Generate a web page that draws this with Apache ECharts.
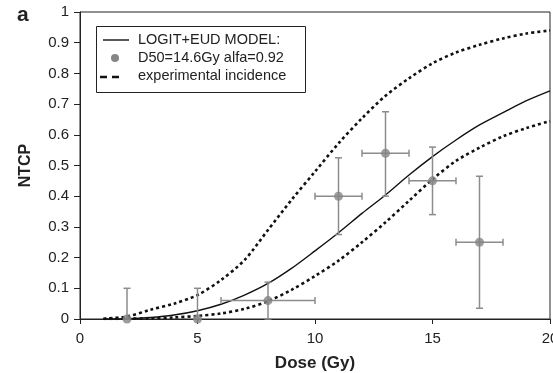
<!DOCTYPE html>
<html>
<head>
<meta charset="utf-8">
<script src="https://cdn.jsdelivr.net/npm/echarts@6/dist/echarts.min.js"></script>
<style>
html,body{margin:0;padding:0;background:#fff;}
#chart{width:553px;height:373px;}
</style>
</head>
<body>
<div id="chart"></div>
<script>
// ---- data ----
const doses = [1,2,3,4,5,6,7,8,9,10,11,12,13,14,15,16,17,18,19,20];
const modelNTCP = [0.0002,0.0012,0.005,0.013,0.027,0.048,0.078,0.116,0.165,0.222,0.281,0.344,0.404,0.469,0.529,0.583,0.632,0.672,0.711,0.743];
const upperCI = [0.001,0.008,0.03,0.05,0.078,0.127,0.192,0.29,0.388,0.48,0.572,0.654,0.727,0.784,0.833,0.868,0.893,0.914,0.93,0.94];
const lowerCI = [0,0.001,0.002,0.005,0.01,0.018,0.033,0.058,0.095,0.14,0.19,0.25,0.315,0.385,0.455,0.515,0.558,0.595,0.622,0.645];

const expDose   = [2,5,8,11,13,15,17];
const expNTCP   = [0,0,0.06,0.40,0.54,0.45,0.25];
const expDoseLo = [2,5,6,10,12,14,16];
const expDoseHi = [2,5,10,12,14,16,18];
const expNTCPLo = [0,0,0,0.275,0.40,0.34,0.035];
const expNTCPHi = [0.10,0.10,0.12,0.525,0.675,0.56,0.465];

const xTicks = [0,5,10,15,20];
const yTicks = [0,0.1,0.2,0.3,0.4,0.5,0.6,0.7,0.8,0.9,1];

const legendLabels = ['LOGIT+EUD MODEL:', 'D50=14.6Gy alfa=0.92', 'experimental incidence'];

// ---- build ----
const zip = (a,b) => a.map((v,i)=>[v,b[i]]);
const errData = expDose.map((d,i)=>[d, expNTCP[i], expDoseLo[i], expDoseHi[i], expNTCPLo[i], expNTCPHi[i]]);
const FONT = '"Liberation Sans", Arial, sans-serif';
const GRAY = '#8c8c8c';
const DASH = [3,3];

const chart = echarts.init(document.getElementById('chart'));
chart.setOption({
  animation:false,
  backgroundColor:'#fff',
  grid:{left:80,right:3,top:12,bottom:54,show:true,borderColor:'#222',borderWidth:1,
        outerBoundsMode:'none',containLabel:false},
  xAxis:{
    type:'value',min:xTicks[0],max:xTicks[xTicks.length-1],interval:5,
    name:'Dose (Gy)',nameLocation:'middle',nameGap:36,
    nameTextStyle:{fontFamily:FONT,fontSize:17,fontWeight:'bold',color:'#222'},
    axisLine:{lineStyle:{color:'#222',width:1}},
    axisTick:{show:true,length:5,inside:false,lineStyle:{color:'#222'}},
    axisLabel:{fontFamily:FONT,fontSize:15,color:'#222',margin:12,hideOverlap:false},
    splitLine:{show:false}
  },
  yAxis:{
    type:'value',min:yTicks[0],max:yTicks[yTicks.length-1],interval:0.1,
    name:'NTCP',nameLocation:'middle',nameGap:46,nameRotate:90,
    nameTextStyle:{fontFamily:FONT,fontSize:16,fontWeight:'bold',color:'#222'},
    axisLine:{show:true,lineStyle:{color:'#222',width:1}},
    axisTick:{show:true,length:6,inside:false,lineStyle:{color:'#222'}},
    axisLabel:{fontFamily:FONT,fontSize:15,color:'#222',margin:11,hideOverlap:false,
      formatter:v=>String(Math.round(v*10)/10)},
    splitLine:{show:false}
  },
  series:[
    {type:'line',data:zip(doses,upperCI),smooth:0.3,symbol:'none',
      lineStyle:{color:'#111',width:2.6,type:DASH},z:3},
    {type:'line',data:zip(doses,lowerCI),smooth:0.3,symbol:'none',
      lineStyle:{color:'#111',width:2.6,type:DASH},z:3},
    {type:'line',data:zip(doses,modelNTCP),smooth:0.3,symbol:'none',
      lineStyle:{color:'#111',width:1.4},z:4},
    {type:'custom',data:errData,z:5,
      renderItem:function(params,api){
        const x=api.value(0),y=api.value(1),xl=api.value(2),xh=api.value(3),yl=api.value(4),yh=api.value(5);
        const c=api.coord([x,y]);
        const pyl=api.coord([x,yl]), pyh=api.coord([x,yh]);
        const style={stroke:GRAY,lineWidth:1.5,fill:null};
        const ch=[];
        const cap=3.5;
        ch.push({type:'line',shape:{x1:c[0],y1:pyl[1],x2:c[0],y2:pyh[1]},style});
        ch.push({type:'line',shape:{x1:c[0]-cap,y1:pyh[1],x2:c[0]+cap,y2:pyh[1]},style});
        ch.push({type:'line',shape:{x1:c[0]-cap,y1:pyl[1],x2:c[0]+cap,y2:pyl[1]},style});
        if (xh>xl){
          const pxl=api.coord([xl,y]), pxh=api.coord([xh,y]);
          ch.push({type:'line',shape:{x1:pxl[0],y1:c[1],x2:pxh[0],y2:c[1]},style});
          ch.push({type:'line',shape:{x1:pxl[0],y1:c[1]-cap,x2:pxl[0],y2:c[1]+cap},style});
          ch.push({type:'line',shape:{x1:pxh[0],y1:c[1]-cap,x2:pxh[0],y2:c[1]+cap},style});
        }
        return {type:'group',children:ch};
      }
    },
    {type:'scatter',data:zip(expDose,expNTCP),symbol:'circle',symbolSize:9,
      itemStyle:{color:'#858585'},z:6}
  ],
  graphic:[
    {type:'text',x:17,y:5,style:{text:'a',font:'bold 21px '+FONT,fill:'#222',verticalAlign:'top'}},
    {type:'rect',shape:{x:96.5,y:26.5,width:209,height:66},style:{fill:'#fff',stroke:'#222',lineWidth:1},z:10},
    {type:'line',shape:{x1:103,y1:40,x2:129,y2:40},style:{stroke:'#111',lineWidth:1.4},z:11},
    {type:'circle',shape:{cx:115,cy:58,r:4},style:{fill:'#858585'},z:11},
    {type:'line',shape:{x1:100,y1:77,x2:119,y2:77},style:{stroke:'#111',lineWidth:2.6,lineDash:[7,5]},z:11},
    {type:'text',x:138,y:40,style:{text:legendLabels[0],font:'14.5px '+FONT,fill:'#222',verticalAlign:'middle'},z:11},
    {type:'text',x:138,y:58,style:{text:legendLabels[1],font:'14.5px '+FONT,fill:'#222',verticalAlign:'middle'},z:11},
    {type:'text',x:138,y:76,style:{text:legendLabels[2],font:'14.5px '+FONT,fill:'#222',verticalAlign:'middle'},z:11}
  ]
});
</script>
</body>
</html>
